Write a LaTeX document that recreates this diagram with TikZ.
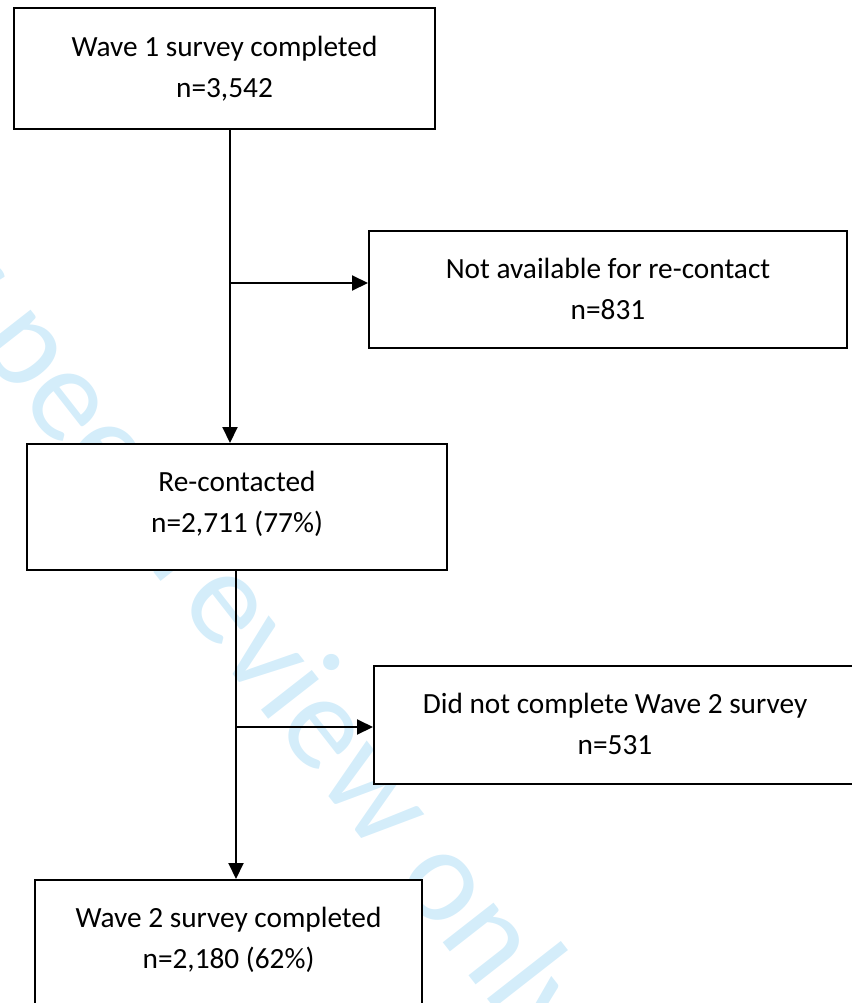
\documentclass[tikz,border=0pt]{standalone}
\usepackage{fontspec}
\setmainfont{Carlito}
\usetikzlibrary{arrows.meta,calc}
\definecolor{wm}{RGB}{212,237,250}
\tikzset{
  box/.style={draw=black, line width=2pt, fill=white, inner sep=0pt, anchor=north west},
  txt/.style={align=center, inner sep=0pt, font=\fontsize{29.3pt}{41pt}\selectfont},
  arr/.style={draw=black, line width=2pt, -{Triangle[length=16pt,width=15pt]}},
  wmark/.style={text=wm, inner sep=0pt, font=\fontsize{135pt}{135pt}\selectfont}
}
\begin{document}
\begin{tikzpicture}[x=1pt,y=-1pt]
\useasboundingbox (0,0) rectangle (851,1003);
% watermark
\node[wmark, anchor=base, rotate=-52] (wmk) at (192,621) {For peer review only};
% boxes
\node[box, minimum width=421pt, minimum height=121pt] (b1) at (13,7) {};
\node[box, minimum width=478pt, minimum height=117pt] (b2) at (368,230) {};
\node[box, minimum width=420pt, minimum height=126pt] (b3) at (26,443) {};
\node[box, minimum width=482pt, minimum height=118pt] (b4) at (373,665) {};
\node[box, minimum width=387pt, minimum height=140pt] (b5) at (34,879) {};
% texts (base anchor = baseline of the last line)
\node[txt, anchor=base] (t1) at ($(b1.north)+(0,91)$) {Wave 1 survey completed\\n=3,542};
\node[txt, anchor=base] (t2) at ($(b2.north)+(0,89)$) {Not available for re-contact\\n=831};
\node[txt, anchor=base] (t3) at ($(b3.north)+(0,89)$) {Re-contacted\\n=2,711 (77\%)};
\node[txt, anchor=base] (t4) at ($(b4.north)+(0,89)$) {Did not complete Wave 2 survey\\n=531};
\node[txt, anchor=base] (t5) at ($(b5.north)+(0,89)$) {Wave 2 survey completed\\n=2,180 (62\%)};
% connectors
\coordinate (s1) at ($(b1.south west)+(217,0)$);
\coordinate (e1) at ($(b3.north west)+(204,0)$);
\coordinate (j1) at (230,283);
\draw[arr] (s1) -- (e1);
\draw[arr] (j1) -- (j1 -| b2.west);
\coordinate (s2) at ($(b3.south west)+(210,0)$);
\coordinate (e2) at ($(b5.north west)+(202,0)$);
\coordinate (j2) at (236,727);
\draw[arr] (s2) -- (e2);
\draw[arr] (j2) -- (j2 -| b4.west);
\end{tikzpicture}
\end{document}
